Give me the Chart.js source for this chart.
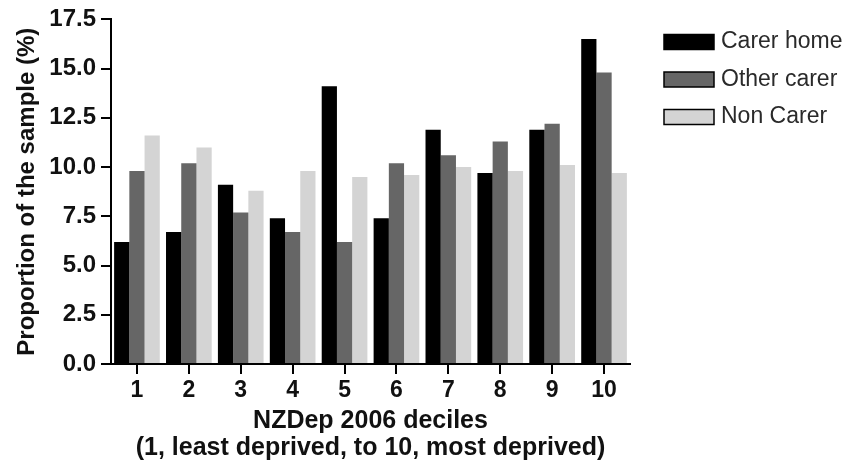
<!DOCTYPE html>
<html>
<head>
<meta charset="utf-8">
<script src="https://cdn.jsdelivr.net/npm/chart.js@4/dist/chart.umd.min.js"></script>
<style>
  html, body { margin: 0; padding: 0; background: #fff; }
  #wrap { width: 853px; height: 465px; }
</style>
</head>
<body>
<div id="wrap"><canvas id="deprivChart" width="853" height="465"></canvas></div>
<script>
const deciles = ['1', '2', '3', '4', '5', '6', '7', '8', '9', '10'];
const seriesNames = ['Carer home', 'Other carer', 'Non Carer'];
const carerHome = [6.2, 6.7, 9.1, 7.4, 14.1, 7.4, 11.9, 9.7, 11.9, 16.5];
const otherCarer = [9.8, 10.2, 7.7, 6.7, 6.2, 10.2, 10.6, 11.3, 12.2, 14.8];
const nonCarer = [11.6, 11.0, 8.8, 9.8, 9.5, 9.6, 10.0, 9.8, 10.1, 9.7];
const yTicks = [0, 2.5, 5, 7.5, 10, 12.5, 15, 17.5];
const barColors = ['#000000', '#666666', '#d4d4d4'];

const fontFamily = '"Liberation Sans", Arial, sans-serif';

// legend on the right, drawn by hand so it sits where the original one does
const sideLegend = {
  id: 'sideLegend',
  afterDraw(chart) {
    const { ctx } = chart;
    ctx.save();
    ctx.font = '23px ' + fontFamily;
    ctx.textBaseline = 'middle';
    ctx.textAlign = 'left';
    chart.data.datasets.forEach((ds, i) => {
      const y = 42 + i * 37.5;
      ctx.fillStyle = ds.backgroundColor;
      ctx.fillRect(664, y - 7.5, 50, 15);
      ctx.strokeStyle = '#000';
      ctx.lineWidth = 1.5;
      ctx.strokeRect(664, y - 7.5, 50, 15);
      ctx.fillStyle = '#2a2a2a';
      ctx.fillText(ds.label, 721, y);
    });
    ctx.restore();
  }
};

new Chart(document.getElementById('deprivChart'), {
  type: 'bar',
  data: {
    labels: deciles,
    datasets: [
      { label: seriesNames[0], data: carerHome, backgroundColor: barColors[0] },
      { label: seriesNames[1], data: otherCarer, backgroundColor: barColors[1] },
      { label: seriesNames[2], data: nonCarer, backgroundColor: barColors[2] }
    ]
  },
  options: {
    responsive: false,
    animation: false,
    devicePixelRatio: 1,
    layout: { padding: { left: 0, right: 223, top: 19, bottom: 0 } },
    datasets: {
      bar: { categoryPercentage: 0.88, barPercentage: 1.0, borderWidth: 0 }
    },
    plugins: {
      legend: { display: false },
      tooltip: { enabled: false }
    },
    scales: {
      x: {
        afterFit(scale) { scale.height = 101; },
        border: { display: true, color: '#000', width: 2 },
        grid: {
          offset: false,
          drawOnChartArea: false,
          drawTicks: true,
          tickLength: 10,
          color: '#000',
          lineWidth: 2
        },
        ticks: {
          color: '#111',
          padding: 3,
          font: { family: fontFamily, size: 23, weight: 'bold' }
        },
        title: {
          display: true,
          text: ['NZDep 2006 deciles', '(1, least deprived, to 10, most deprived)'],
          color: '#111',
          padding: { top: 0, bottom: 3 },
          font: { family: fontFamily, size: 25, weight: 'bold', lineHeight: 1.08 }
        }
      },
      y: {
        min: 0,
        max: 17.5,
        afterFit(scale) { scale.width = 111; },
        afterBuildTicks(scale) { scale.ticks = yTicks.map(v => ({ value: v })); },
        border: { display: true, color: '#000', width: 2 },
        grid: {
          drawOnChartArea: false,
          drawTicks: true,
          tickLength: 10,
          color: '#000',
          lineWidth: 2
        },
        ticks: {
          color: '#111',
          padding: 5,
          font: { family: fontFamily, size: 24, weight: 'bold' },
          callback: v => Number(v).toFixed(1)
        },
        title: {
          display: true,
          text: 'Proportion of the sample (%)',
          color: '#111',
          padding: { top: 13, bottom: 0 },
          font: { family: fontFamily, size: 24, weight: 'bold', lineHeight: 1.2 }
        }
      }
    }
  },
  plugins: [sideLegend]
});
</script>
</body>
</html>
